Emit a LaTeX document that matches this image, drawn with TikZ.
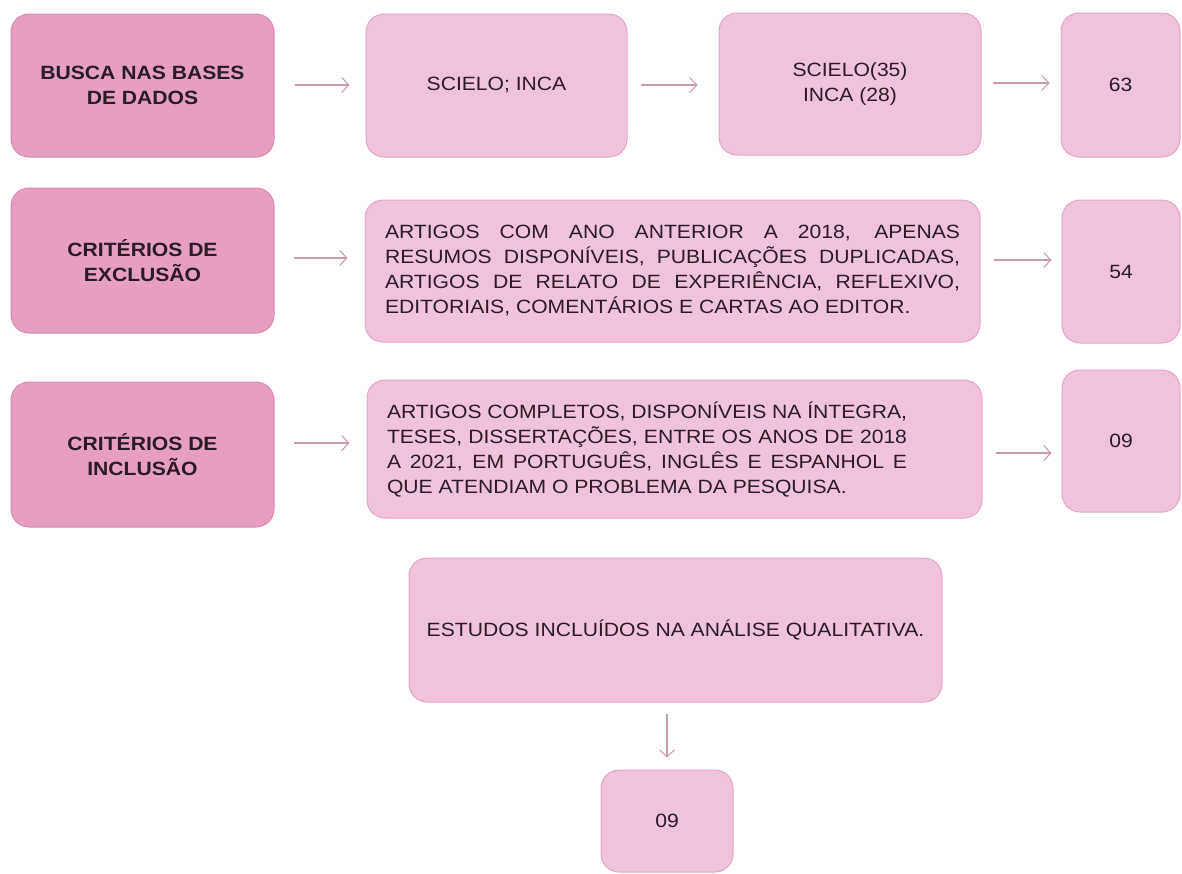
\documentclass[tikz,border=0pt]{standalone}
\usepackage{fontspec}
\setmainfont{Liberation Sans}[FakeStretch=1.1]
\usepackage{tikz}
\usepackage{xcolor}
\usetikzlibrary{arrows.meta,positioning,calc}

\definecolor{rosaescuro}{HTML}{E79EC0}
\definecolor{rosaclaro}{HTML}{F0C3DB}
\definecolor{bordaescura}{HTML}{D58CB0}
\definecolor{bordaclara}{HTML}{E0A6C6}
\definecolor{corseta}{HTML}{C99AB2}
\definecolor{texto}{HTML}{2B1B24}

\begin{document}
\begin{tikzpicture}[x=1pt,y=-1pt,
    caixa/.style={draw=bordaclara, fill=rosaclaro, line width=1pt, rounded corners=18pt,
        inner sep=0pt, text=texto, align=center, font=\fontsize{19.2}{25}\selectfont},
    etapa/.style={caixa, draw=bordaescura, fill=rosaescuro, font=\fontsize{19.2}{25}\selectfont\bfseries},
    seta/.style={draw=corseta, line width=1.1pt, -{Straight Barb[length=7pt,width=15pt]}}]
    \useasboundingbox (0,0) rectangle (1182,873);

    % Busca nas bases
    \node[etapa, minimum width=263pt, minimum height=143pt] (busca) at (142.5,85.5) {BUSCA NAS BASES\\DE DADOS};
    \node[caixa, minimum width=261pt, minimum height=143pt] (bases) at (496.5,85.5) {SCIELO; INCA};
    \node[caixa, minimum width=262pt, minimum height=142pt] (scielo) at (850,84) {SCIELO(35)\\INCA (28)};
    \node[caixa, minimum width=119pt, minimum height=144pt] (n63) at (1120.5,85) {63};

    % Criterios de exclusao
    \node[etapa, minimum width=263pt, minimum height=145pt] (exclusao) at (142.5,260.5) {CRITÉRIOS DE\\EXCLUSÃO};
    \node[caixa, minimum width=615pt, minimum height=142pt, text width=575pt, align=justify] (excl) at (672.5,271)
        {ARTIGOS COM ANO ANTERIOR A 2018, APENAS\linebreak
         RESUMOS DISPONÍVEIS, PUBLICAÇÕES DUPLICADAS,\linebreak
         ARTIGOS DE RELATO DE EXPERIÊNCIA, REFLEXIVO,\linebreak
         EDITORIAIS, COMENTÁRIOS E CARTAS AO EDITOR.};
    \node[caixa, minimum width=118pt, minimum height=143pt] (n54) at (1121,271.5) {54};

    % Criterios de inclusao
    \node[etapa, minimum width=263pt, minimum height=145pt] (inclusao) at (142.5,454.5) {CRITÉRIOS DE\\INCLUSÃO};
    \node[caixa, minimum width=615pt, minimum height=138pt, text width=575pt, align=justify] (incl) at (674.5,449)
        {\parbox{520pt}{ARTIGOS COMPLETOS, DISPONÍVEIS NA ÍNTEGRA,\linebreak
         TESES, DISSERTAÇÕES, ENTRE OS ANOS DE 2018\linebreak
         A 2021, EM PORTUGUÊS, INGLÊS E ESPANHOL E\linebreak
         QUE ATENDIAM O PROBLEMA DA PESQUISA.}};
    \node[caixa, minimum width=118pt, minimum height=142pt] (n09a) at (1121,441) {09};

    % Estudos incluidos
    \node[caixa, minimum width=533pt, minimum height=144pt] (estudos) at (675.5,630) {ESTUDOS INCLUÍDOS NA ANÁLISE QUALITATIVA.};
    \node[caixa, minimum width=132pt, minimum height=102pt] (n09b) at (667,821) {09};

    % Setas
    \foreach \a/\b/\y/\s/\t in {busca/bases/85/20/16, bases/scielo/85/13/21, scielo/n63/83/11/11,
        exclusao/excl/258/19/17, excl/n54/260/13/10, inclusao/incl/443/19/17, incl/n09a/453/13/10} {
        \draw[seta, shorten <=\s, shorten >=\t] (\a.east |- 0,\y) -- (\b.west |- 0,\y);
    }
    \draw[seta, shorten <=11, shorten >=12] (estudos.south -| n09b.north) -- (n09b.north);
\end{tikzpicture}
\end{document}
